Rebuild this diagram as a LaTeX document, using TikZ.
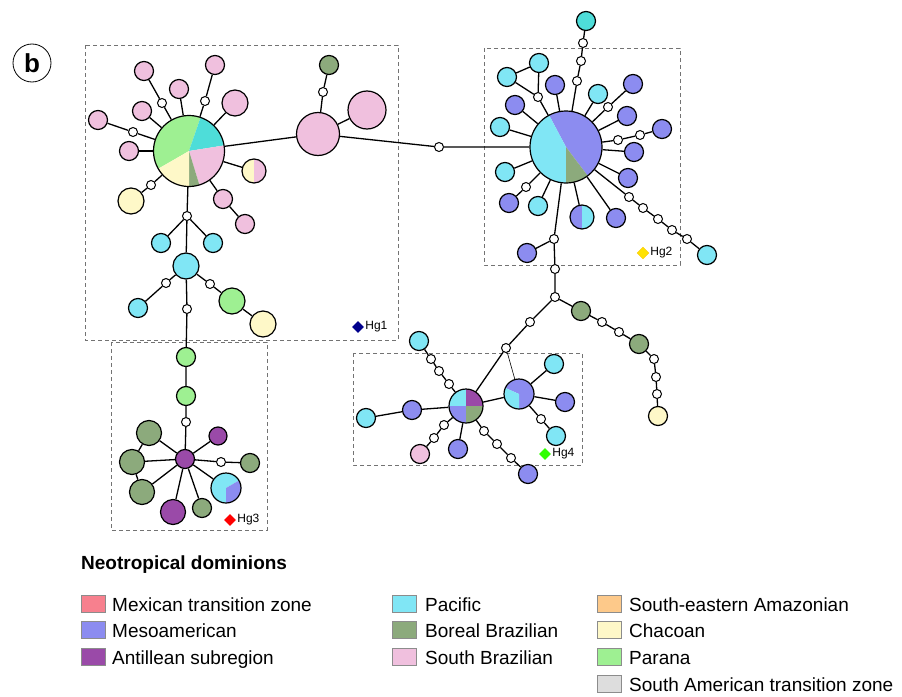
\documentclass[tikz,border=0pt]{standalone}
\usepackage{fontspec}
\setmainfont{Liberation Sans}
\usetikzlibrary{shapes.geometric}

\definecolor{mexc}{HTML}{F7808E}
\definecolor{meso}{HTML}{8C8CF0}
\definecolor{anti}{HTML}{9A4AA8}
\definecolor{paci}{HTML}{80E6F5}
\definecolor{bore}{HTML}{8CAA7C}
\definecolor{sbra}{HTML}{F0C0DE}
\definecolor{seam}{HTML}{FDC98A}
\definecolor{chac}{HTML}{FEF8C8}
\definecolor{para}{HTML}{9EF092}
\definecolor{satz}{HTML}{DDDDDD}
\definecolor{turq}{HTML}{4EDDD9}

\tikzset{
	hap/.style={draw=black, shape=circle, line width=1.2pt, inner sep=0pt, minimum size=19pt},
	med/.style={hap, fill=white, minimum size=9pt, line width=1pt},
	frame/.style={draw=black!55, line width=0.8pt, dash pattern=on 4pt off 3pt},
	link/.style={line width=1.3pt},
	key/.style={draw=black!45, line width=0.6pt, minimum width=24pt, minimum height=17pt, inner sep=0pt},
	keytext/.style={anchor=base west, inner sep=0pt, font=\fontsize{19}{22}\selectfont},
	hgmark/.style={shape=diamond, minimum size=12pt, inner sep=0pt},
	hgtext/.style={anchor=west, inner sep=1pt, font=\fontsize{12}{14}\selectfont},
}
% pie wedge: centre, radius, start, end, colour
\newcommand{\pieseg}[5]{\fill[#5] (#1) -- ++(#3:#2) arc[start angle=#3, end angle=#4, radius=#2] -- cycle;}

\begin{document}
\begin{tikzpicture}[x=1pt, y=-1pt]
	\useasboundingbox (0,0) rectangle (902,696);

	% panel letter
	\node [draw=black, shape=circle, line width=0.8pt, minimum size=38pt, inner sep=0pt, font=\bfseries\fontsize{26}{26}\selectfont] (b) at (32,63) {b};

	% haplogroup frames
	\draw[frame] (85,45) rectangle (398,340);
	\draw[frame] (484,48) rectangle (680,265);
	\draw[frame] (111,342) rectangle (267,530);
	\draw[frame] (353,353) rectangle (582,465);

	% pie wedges
	\pieseg{189,151}{35.5pt}{71}{210}{para}
	\pieseg{189,151}{35.5pt}{9}{71}{turq}
	\pieseg{189,151}{35.5pt}{-73}{9}{sbra}
	\pieseg{189,151}{35.5pt}{-90}{-73}{bore}
	\pieseg{189,151}{35.5pt}{210}{270}{chac}
	\pieseg{254,171}{12pt}{90}{270}{chac}
	\pieseg{254,171}{12pt}{-90}{90}{sbra}
	\pieseg{566,147}{36pt}{-53}{118}{meso}
	\pieseg{566,147}{36pt}{118}{270}{paci}
	\pieseg{566,147}{36pt}{-90}{-53}{bore}
	\pieseg{582,217}{12pt}{90}{270}{meso}
	\pieseg{582,217}{12pt}{-90}{90}{paci}
	\pieseg{226,488}{15pt}{30}{270}{paci}
	\pieseg{226,488}{15pt}{-90}{30}{meso}
	\pieseg{466,406}{17pt}{90}{180}{paci}
	\pieseg{466,406}{17pt}{0}{90}{anti}
	\pieseg{466,406}{17pt}{180}{270}{meso}
	\pieseg{466,406}{17pt}{270}{360}{bore}
	\pieseg{519,394}{15pt}{-90}{156}{meso}
	\pieseg{519,394}{15pt}{156}{270}{paci}

	% Hg1
	\node [hap, minimum size=71pt] (100) at (189,151) {};
	\node [hap, fill=sbra, minimum size=43pt] (101) at (318,134) {};
	\node [hap, fill=sbra, minimum size=38pt] (102) at (367,110) {};
	\node [med] (103) at (323,92) {};
	\node [hap, fill=bore] (104) at (329,65) {};
	\node [med] (105) at (439,147) {};
	\node [hap, fill=sbra] (106) at (144,71) {};
	\node [med] (107) at (162,103) {};
	\node [hap, fill=sbra] (108) at (179,89) {};
	\node [hap, fill=sbra] (109) at (142,111) {};
	\node [hap, fill=sbra] (110) at (98,120) {};
	\node [med] (111) at (133,132) {};
	\node [hap, fill=sbra] (112) at (129,151) {};
	\node [hap, fill=sbra] (113) at (215,65) {};
	\node [med] (114) at (205,101) {};
	\node [hap, fill=sbra, minimum size=26pt] (115) at (235,103) {};
	\node [hap, minimum size=24pt] (116) at (254,171) {};
	\node [hap, fill=chac, minimum size=26pt] (117) at (131,201) {};
	\node [med] (118) at (151,185) {};
	\node [hap, fill=sbra] (119) at (223,199) {};
	\node [hap, fill=sbra] (120) at (245,224) {};
	\node [med] (121) at (187,216) {};
	\node [hap, fill=paci] (122) at (161,243) {};
	\node [hap, fill=paci] (123) at (213,243) {};
	\node [hap, fill=paci, minimum size=26pt] (124) at (186,266) {};
	\node [med] (125) at (166,283) {};
	\node [hap, fill=paci] (126) at (138,308) {};
	\node [med] (127) at (210,284) {};
	\node [hap, fill=para, minimum size=26pt] (128) at (232,301) {};
	\node [hap, fill=chac, minimum size=26pt] (129) at (263,324) {};
	\node [med] (130) at (187,309) {};

	% Hg2
	\node [hap, minimum size=72pt] (200) at (566,147) {};
	\node [hap, fill=turq] (201) at (586,21) {};
	\node [med] (202) at (583,43) {};
	\node [med] (203) at (581,61) {};
	\node [med] (204) at (577,81) {};
	\node [hap, fill=paci] (205) at (539,63) {};
	\node [hap, fill=paci] (206) at (507,77) {};
	\node [med] (207) at (538,97) {};
	\node [hap, fill=meso] (208) at (555,85) {};
	\node [hap, fill=meso] (209) at (515,105) {};
	\node [hap, fill=paci] (210) at (500,127) {};
	\node [hap, fill=paci] (211) at (598,94) {};
	\node [hap, fill=meso] (212) at (633,84) {};
	\node [med] (213) at (608,107) {};
	\node [hap, fill=meso] (214) at (627,116) {};
	\node [hap, fill=meso] (215) at (662,129) {};
	\node [med] (216) at (640,135) {};
	\node [med] (217) at (618,140) {};
	\node [hap, fill=meso] (218) at (634,152) {};
	\node [hap, fill=meso] (219) at (628,178) {};
	\node [hap, fill=paci] (220) at (505,172) {};
	\node [hap, fill=meso] (221) at (509,203) {};
	\node [med] (222) at (526,187) {};
	\node [hap, fill=paci] (223) at (538,206) {};
	\node [hap, minimum size=24pt] (224) at (582,217) {};
	\node [hap, fill=meso] (225) at (616,218) {};
	\node [med] (226) at (629,197) {};
	\node [med] (227) at (643,208) {};
	\node [med] (228) at (658,219) {};
	\node [med] (229) at (672,230) {};
	\node [med] (230) at (687,239) {};
	\node [hap, fill=paci] (231) at (707,255) {};
	\node [med] (232) at (554,239) {};
	\node [hap, fill=meso] (233) at (527,253) {};
	\node [med] (234) at (555,269) {};
	\node [med] (235) at (555,297) {};

	% Hg3
	\node [hap, fill=para] (300) at (186,357) {};
	\node [hap, fill=para] (301) at (186,396) {};
	\node [med] (302) at (186,422) {};
	\node [hap, fill=anti] (303) at (185,459) {};
	\node [hap, fill=anti, minimum size=18pt] (304) at (218,436) {};
	\node [med] (305) at (221,462) {};
	\node [hap, fill=bore] (306) at (250,463) {};
	\node [hap, minimum size=30pt] (307) at (226,488) {};
	\node [hap, fill=bore] (308) at (202,508) {};
	\node [hap, fill=anti, minimum size=25pt] (309) at (173,512) {};
	\node [hap, fill=bore, minimum size=25pt] (310) at (142,492) {};
	\node [hap, fill=bore, minimum size=25pt] (311) at (132,462) {};
	\node [hap, fill=bore, minimum size=25pt] (312) at (149,433) {};

	% Hg4 and lower branch
	\node [hap, fill=bore] (400) at (581,311) {};
	\node [med] (401) at (602,322) {};
	\node [med] (402) at (619,332) {};
	\node [hap, fill=bore] (403) at (639,344) {};
	\node [med] (404) at (654,359) {};
	\node [med] (405) at (656,377) {};
	\node [med] (406) at (657,394) {};
	\node [hap, fill=chac] (407) at (658,416) {};
	\node [med] (408) at (530,322) {};
	\node [med] (409) at (506,348) {};
	\node [hap, minimum size=34pt] (410) at (466,406) {};
	\node [hap, minimum size=30pt] (411) at (519,394) {};
	\node [hap, fill=paci] (412) at (554,364) {};
	\node [hap, fill=meso] (413) at (565,402) {};
	\node [med] (414) at (541,419) {};
	\node [hap, fill=paci] (415) at (556,436) {};
	\node [hap, fill=paci] (416) at (419,341) {};
	\node [med] (417) at (431,359) {};
	\node [med] (418) at (439,371) {};
	\node [med] (419) at (449,384) {};
	\node [hap, fill=meso] (420) at (412,410) {};
	\node [hap, fill=paci] (421) at (366,418) {};
	\node [hap, fill=sbra] (422) at (420,454) {};
	\node [med] (423) at (444,425) {};
	\node [med] (424) at (434,438) {};
	\node [hap, fill=meso] (425) at (458,449) {};
	\node [hap, fill=meso] (426) at (528,474) {};
	\node [med] (427) at (484,431) {};
	\node [med] (428) at (497,444) {};
	\node [med] (429) at (511,458) {};

	% links Hg1
	\draw[link] (100) -- (101) -- (105) -- (200);
	\draw[link] (101) -- (102);
	\draw[link] (101) -- (103) -- (104);
	\draw[link] (100) -- (107) -- (106);
	\draw[link] (100) -- (108);
	\draw[link] (100) -- (109);
	\draw[link] (100) -- (111) -- (110);
	\draw[link] (100) -- (112);
	\draw[link] (100) -- (114) -- (113);
	\draw[link] (100) -- (115);
	\draw[link] (100) -- (116);
	\draw[link] (100) -- (118) -- (117);
	\draw[link] (100) -- (119) -- (120);
	\draw[link] (100) -- (121) -- (124);
	\draw[link] (121) -- (122);
	\draw[link] (121) -- (123);
	\draw[link] (124) -- (125) -- (126);
	\draw[link] (124) -- (127) -- (128) -- (129);
	\draw[link] (124) -- (130) -- (300);

	% links Hg2
	\draw[link] (200) -- (204) -- (203) -- (202) -- (201);
	\draw[link] (200) -- (207) -- (205) -- (206) -- (207);
	\draw[link] (200) -- (208);
	\draw[link] (200) -- (209);
	\draw[link] (200) -- (210);
	\draw[link] (200) -- (211);
	\draw[link] (200) -- (213) -- (212);
	\draw[link] (200) -- (214);
	\draw[link] (200) -- (217) -- (216) -- (215);
	\draw[link] (200) -- (218);
	\draw[link] (200) -- (219);
	\draw[link] (200) -- (220);
	\draw[link] (200) -- (222) -- (221);
	\draw[link] (200) -- (223);
	\draw[link] (200) -- (224);
	\draw[link] (200) -- (225);
	\draw[link] (200) -- (226) -- (227) -- (228) -- (229) -- (230) -- (231);
	\draw[link] (200) -- (232) -- (234) -- (235);
	\draw[link] (232) -- (233);

	% links Hg3
	\draw[link] (300) -- (301) -- (302) -- (303);
	\draw[link] (303) -- (304);
	\draw[link] (303) -- (305) -- (306);
	\draw[link] (303) -- (307);
	\draw[link] (303) -- (308);
	\draw[link] (303) -- (309);
	\draw[link] (303) -- (310);
	\draw[link] (303) -- (311);
	\draw[link] (303) -- (312);
	\draw[link] (312) -- (311) -- (310);

	% links Hg4 and lower branch
	\draw[link] (235) -- (400) -- (401) -- (402) -- (403) -- (404) -- (405) -- (406) -- (407);
	\draw[link] (235) -- (408) -- (409) -- (410);
	\draw[line width=0.6pt] (409) -- (411);
	\draw[link] (410) -- (411);
	\draw[link] (411) -- (412);
	\draw[link] (411) -- (413);
	\draw[link] (411) -- (414) -- (415);
	\draw[link] (410) -- (419) -- (418) -- (417) -- (416);
	\draw[link] (410) -- (420) -- (421);
	\draw[link] (410) -- (423) -- (424) -- (422);
	\draw[link] (410) -- (425);
	\draw[link] (410) -- (427) -- (428) -- (429) -- (426);

	% haplogroup labels
	\node [hgmark, fill=blue!55!black] (g1) at (358,327) {};
	\node [hgtext] (g1t) at (g1.east) {Hg1};
	\node [hgmark, fill=yellow!85!orange, draw=yellow!60!orange, line width=0.4pt] (g2) at (643,253) {};
	\node [hgtext] (g2t) at (g2.east) {Hg2};
	\node [hgmark, fill=red] (g3) at (230,520) {};
	\node [hgtext] (g3t) at (g3.east) {Hg3};
	\node [hgmark, fill=green!75!lime] (g4) at (545,454) {};
	\node [hgtext] (g4t) at (g4.east) {Hg4};

	% legend
	\node [anchor=west, inner sep=0pt, font=\bfseries\fontsize{19}{22}\selectfont] (lt) at (81,565) {Neotropical dominions};
	\node [key, fill=mexc] (k1) at (93,604) {};
	\node [keytext] (t1) at (112,611) {Mexican transition zone};
	\node [key, fill=meso] (k2) at (93,630) {};
	\node [keytext] (t2) at (112,637) {Mesoamerican};
	\node [key, fill=anti] (k3) at (93,657) {};
	\node [keytext] (t3) at (112,664) {Antillean subregion};
	\node [key, fill=paci] (k4) at (404.5,604) {};
	\node [keytext] (t4) at (425,611) {Pacific};
	\node [key, fill=bore] (k5) at (404.5,630) {};
	\node [keytext] (t5) at (425,637) {Boreal Brazilian};
	\node [key, fill=sbra] (k6) at (404.5,657) {};
	\node [keytext] (t6) at (425,664) {South Brazilian};
	\node [key, fill=seam] (k7) at (609.5,604) {};
	\node [keytext] (t7) at (629,611) {South-eastern Amazonian};
	\node [key, fill=chac] (k8) at (609.5,630) {};
	\node [keytext] (t8) at (629,637) {Chacoan};
	\node [key, fill=para] (k9) at (609.5,657) {};
	\node [keytext] (t9) at (629,664) {Parana};
	\node [key, fill=satz] (k10) at (609.5,684) {};
	\node [keytext] (t10) at (629,691) {South American transition zone};
\end{tikzpicture}
\end{document}
